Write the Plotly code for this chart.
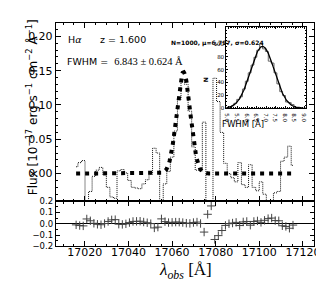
import numpy as np
import plotly.graph_objects as go

# ---------------- data ----------------
wave = [17016.00, 17017.63, 17019.26, 17020.89, 17022.52, 17024.15, 17025.78, 17027.41,
        17029.04, 17030.67, 17032.30, 17033.93, 17035.56, 17037.19, 17038.82, 17040.45,
        17042.08, 17043.71, 17045.34, 17046.97, 17048.60, 17050.23, 17051.86, 17053.49,
        17055.12, 17056.75, 17058.38, 17060.01, 17061.64, 17063.27, 17064.90, 17066.53,
        17068.16, 17069.79, 17071.42, 17073.05, 17074.68, 17076.31, 17077.94, 17079.57,
        17081.20, 17082.83, 17084.46, 17086.09, 17087.72, 17089.35, 17090.98, 17092.61,
        17094.24, 17095.87, 17097.50, 17099.13, 17100.76, 17102.39, 17104.02, 17105.65,
        17107.28, 17108.91, 17110.54, 17112.17, 17113.80, 17115.43]

flux = [0.010, 0.016, 0.019, -0.042, -0.026, -0.004, 0.005, 0.009,
        -0.002, -0.020, -0.034, -0.036, 0.004, 0.006, 0.001, -0.010,
        -0.020, -0.021, -0.022, -0.015, -0.009, -0.001, 0.037, 0.030,
        -0.042, -0.015, 0.003, 0.024, 0.062, 0.108, 0.137, 0.130,
        0.091, 0.039, 0.005, 0.004, 0.075, -0.083, -0.157, 0.139,
        0.105, 0.060, 0.015, 0.000, -0.006, -0.012, 0.016, -0.016,
        -0.020, 0.013, -0.020, -0.025, -0.012, -0.030, -0.045, -0.050,
        -0.028, -0.026, 0.018, 0.024, 0.040, 0.012]

# Gaussian fit parameters
line_center = 17065.2
line_peak = 0.148
line_sigma = 3.1

# Monte-Carlo FWHM histogram (inset)
hist_edges = [5.00, 5.15, 5.30, 5.45, 5.60, 5.75, 5.90, 6.05, 6.20, 6.35, 6.50, 6.65, 6.80,
              6.95, 7.10, 7.25, 7.40, 7.55, 7.70, 7.85, 8.00, 8.15, 8.30, 8.45, 8.60, 8.75, 8.90]
hist_counts = [1, 4, 8, 14, 18, 30, 42, 55, 67, 79, 90, 100, 92,
               88, 73, 70, 55, 38, 26, 20, 10, 9, 6, 2, 2, 1]
mc_n = 1000
mc_mu = 6.797
mc_sigma = 0.624

# ---------------- derived ----------------
wave_a = np.array(wave)
flux_a = np.array(flux)
def line_model(w):
    return line_peak * np.exp(-0.5 * ((w - line_center) / line_sigma) ** 2)

resid = line_model(wave_a) - flux_a
grid = np.linspace(wave[0], wave[-1], 500)
model_grid = line_model(grid)

binw = hist_edges[1] - hist_edges[0]
fgrid = np.linspace(4.9, 9.1, 300)
gauss_counts = mc_n * binw / (mc_sigma * np.sqrt(2 * np.pi)) * np.exp(-0.5 * ((fgrid - mc_mu) / mc_sigma) ** 2)
hx = [hist_edges[0]] + hist_edges
hy = [0] + hist_counts + [0]

W, H = 324, 281
def px(x):
    return x / W
def py(y):
    return 1 - y / H

FONT = "DejaVu Sans"
SERIF = "Liberation Serif"

fig = go.Figure()
fig.add_trace(go.Scatter(x=wave, y=flux, mode="lines",
                         line=dict(shape="hvh", color="#111", width=1, dash="1px,1px"),
                         xaxis="x", yaxis="y", hoverinfo="skip"))
fig.add_trace(go.Scatter(x=grid, y=model_grid, mode="lines",
                         line=dict(color="black", width=4, dash="4px,5px"),
                         xaxis="x", yaxis="y", hoverinfo="skip"))
fig.add_trace(go.Scatter(x=wave, y=resid, mode="markers",
                         marker=dict(symbol="cross-thin", size=6, line=dict(width=1, color="#444")),
                         xaxis="x2", yaxis="y2", hoverinfo="skip"))
fig.add_trace(go.Scatter(x=hx, y=hy, mode="lines",
                         line=dict(shape="hv", color="#666", width=1),
                         xaxis="x3", yaxis="y3", hoverinfo="skip"))
fig.add_trace(go.Scatter(x=fgrid, y=gauss_counts, mode="lines",
                         line=dict(color="black", width=1.3),
                         xaxis="x3", yaxis="y3", hoverinfo="skip"))

main_dom_x = [px(47), px(312)]
xr = [17006.7, 17125.2]
common = dict(showline=True, linecolor="black", linewidth=1, mirror="allticks",
              ticks="inside", tickcolor="black", showgrid=False, zeroline=False)

fig.update_layout(
    width=W, height=H, margin=dict(l=0, r=0, t=0, b=0),
    paper_bgcolor="white", plot_bgcolor="white", showlegend=False,
    font=dict(family=FONT, color="black"),
    xaxis=dict(domain=main_dom_x, range=xr, anchor="y", showticklabels=False,
               tick0=17000, dtick=20, ticklen=5,
               minor=dict(dtick=5, ticks="inside", ticklen=2.5, tickcolor="black"), **common),
    yaxis=dict(domain=[py(195), py(10)], range=[-0.04, 0.22], anchor="x",
               tick0=0, dtick=0.05, tickformat=".2f", ticklen=5,
               tickfont=dict(size=11, family=FONT),
               minor=dict(dtick=0.01, ticks="inside", ticklen=2.5, tickcolor="black"), **common),
    xaxis2=dict(domain=main_dom_x, range=xr, anchor="y2",
                tick0=17000, dtick=20, tickformat="d", ticklen=5, ticklabelstandoff=-5,
                tickfont=dict(size=11, family=FONT),
                minor=dict(dtick=5, ticks="inside", ticklen=2.5, tickcolor="black"), **common),
    yaxis2=dict(domain=[py(242), py(195)], range=[-0.2, 0.2], anchor="x2",
                tickvals=[-0.2, -0.1, 0.0, 0.1, 0.2], tickformat=".1f", ticklen=4,
                tickfont=dict(size=8.5, family=FONT),
                showline=True, linecolor="black", linewidth=1, mirror="allticks",
                ticks="inside", tickcolor="black", showgrid=False,
                zeroline=True, zerolinecolor="black", zerolinewidth=1,
                minor=dict(dtick=0.05, ticks="inside", ticklen=2, tickcolor="black")),
    xaxis3=dict(domain=[px(221.7), px(304)], range=[4.9, 9.1], anchor="y3",
                tick0=5, dtick=0.5, tickformat=".1f", ticklen=2,
                tickfont=dict(size=5.5, family=FONT),
                minor=dict(dtick=0.1, ticks="inside", ticklen=1, tickcolor="black"), **common),
    yaxis3=dict(domain=[py(99), py(15)], range=[0, 125], anchor="x3",
                tickvals=[0, 20, 40, 60, 80, 100], ticklen=2,
                tickfont=dict(size=5.5, family=FONT),
                minor=dict(dtick=5, ticks="inside", ticklen=1, tickcolor="black"), **common),
)

fig.add_shape(type="line", xref="paper", yref="paper", x0=px(47), x1=px(312),
              y0=py(195), y1=py(195), line=dict(color="black", width=2))

ann = [
    dict(x=px(57), y=py(20), text="H<i>α</i>", font=dict(size=9.5), xanchor="left"),
    dict(x=px(90), y=py(20), text="z = 1.600", font=dict(size=9.5), xanchor="left"),
    dict(x=px(56), y=py(43),
         text="FWHM =  <span style='font-family:Liberation Serif;font-size:10.5px'>6.843 ± 0.624 Å</span>",
         font=dict(size=9.5), xanchor="left"),
    dict(x=px(12), y=py(98), text="Flux [10<sup>−17</sup> erg s<sup>−1</sup> cm<sup>−2</sup> Å<sup>−1</sup>]",
         textangle=-90, font=dict(size=12)),
    dict(x=px(180), y=py(281), yanchor="bottom", text="<i>λ</i><sub><i>obs</i></sub> [Å]",
         font=dict(size=17, family=SERIF)),
    dict(x=px(262.5), y=py(25), text="<b>N=1000, μ=6.797, σ=0.624</b>", font=dict(size=6)),
    dict(x=px(262.5), y=py(115), text="FWHM [Å]", font=dict(size=8.5)),
    dict(x=px(200), y=py(65), text="<b>N</b>", textangle=-90, font=dict(size=6)),
]
for a in ann:
    a.setdefault("xref", "paper")
    a.setdefault("yref", "paper")
    a.setdefault("showarrow", False)
    fig.add_annotation(**a)

fig.write_html("out.html")
